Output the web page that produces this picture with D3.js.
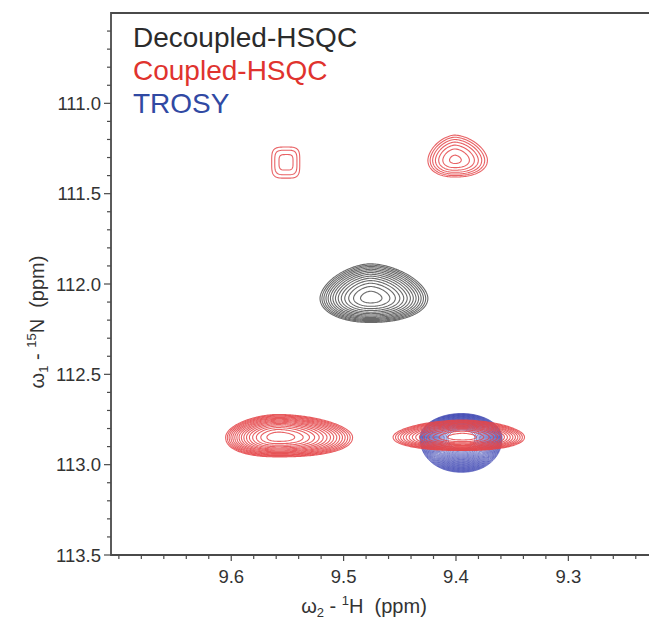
<!DOCTYPE html>
<html>
<head>
<meta charset="utf-8">
<script src="https://cdn.jsdelivr.net/npm/d3@7"></script>
<style>
  body { margin: 0; background: #fff; }
  svg { display: block; font-family: "Liberation Sans", Arial, sans-serif; }
  text { white-space: pre; }
</style>
</head>
<body>
<div id="chart"></div>
<script>
// axis ranges (ppm)
var hDomain = [9.707, 9.222];
var nDomain = [110.5, 113.5];
var hTicks = [9.6, 9.5, 9.4, 9.3];
var nTicks = [111.0, 111.5, 112.0, 112.5, 113.0, 113.5];

// peaks: centre (ppm), half widths to each side (ppm), number of contour rings
var decoupledPeaks = [
  {h: 9.476, n: 112.078, left: 0.045, right: 0.051, up: 0.19, down: 0.135, rings: 14, core: 0.2, qUp: 1.7, qDown: 2.1}
];
var coupledPeaks = [
  {h: 9.551, n: 111.325, left: 0.013, right: 0.012, up: 0.083, down: 0.089, rings: 3, core: 0.5, qUp: 4, qDown: 4},
  {h: 9.401, n: 111.314, left: 0.024, right: 0.029, up: 0.138, down: 0.094, rings: 7, core: 0.2, qUp: 1.7, qDown: 2.2},
  {h: 9.558, n: 112.847, left: 0.047, right: 0.066, up: 0.125, down: 0.11, rings: 16, core: 0.22, qUp: 1.8, qDown: 2.3},
  {h: 9.394, n: 112.847, left: 0.062, right: 0.055, up: 0.094, down: 0.075, rings: 15, core: 0.22, qUp: 1.8, qDown: 2.2}
];
var trosyPeaks = [
  {h: 9.395, n: 112.852, left: 0.037, right: 0.036, up: 0.135, down: 0.19, rings: 32, core: 0.33, qUp: 2, qDown: 2.1}
];
var legendNames = ["Decoupled-HSQC", "Coupled-HSQC", "TROSY"];
var legendColors = ["#2b2b2b", "#e0332e", "#3049a3"];

var W = 649, H = 621;
var x = d3.scaleLinear().domain(hDomain).range([111, 656]);
var y = d3.scaleLinear().domain(nDomain).range([13, 555]);

var svg = d3.select("#chart").append("svg")
    .attr("width", W).attr("height", H);

// grid for contouring
var step = 1.25;
var nx = Math.ceil((x.range()[1] - x.range()[0]) / step);
var ny = Math.ceil((y.range()[1] - y.range()[0]) / step);
var dH = (hDomain[0] - hDomain[1]) / nx;
var dN = (nDomain[1] - nDomain[0]) / ny;

function ringValue(p, hv, nv) {
  var dh = hv - p.h, dn = nv - p.n;
  var u = dh > 0 ? dh / p.left : -dh / p.right;
  var v = dn > 0 ? dn / p.down : -dn / p.up;
  var q = dn > 0 ? p.qDown : p.qUp;
  var r = Math.pow(Math.pow(u, q) + Math.pow(v, q), 1 / q);
  // rings crowd towards the rim, like log-spaced levels on a gaussian
  var e = (p.rings - 1) * (1 - r * r) / (1 - p.core * p.core);
  return Math.min(e, p.rings - 0.5);
}

function field(peaks) {
  var vals = new Float64Array(nx * ny);
  for (var j = 0; j < ny; j++) {
    var nv = nDomain[0] + (j + 0.5) * dN;
    for (var i = 0; i < nx; i++) {
      var hv = hDomain[0] - (i + 0.5) * dH;
      var m = -50;
      peaks.forEach(function(p) { m = Math.max(m, ringValue(p, hv, nv)); });
      vals[j * nx + i] = m;
    }
  }
  return vals;
}

var proj = d3.geoTransform({
  point: function(px, py) {
    this.stream.point(x(hDomain[0] - px * dH), y(nDomain[0] + py * dN));
  }
});
var path = d3.geoPath(proj);

function drawSpectrum(peaks, color, width, opacity) {
  var maxRings = d3.max(peaks, function(p) { return p.rings; });
  var contours = d3.contours().size([nx, ny])
      .thresholds(d3.range(0, maxRings))(field(peaks));
  svg.append("g")
    .selectAll("path")
    .data(contours)
    .join("path")
    .attr("d", path)
    .attr("fill", "none")
    .attr("stroke", color)
    .attr("stroke-width", width)
    .attr("stroke-opacity", opacity)
    .attr("stroke-linejoin", "round");
}

drawSpectrum(decoupledPeaks, "#626262", 1.1, 0.95);
drawSpectrum(trosyPeaks, "#3a43b0", 1.0, 0.7);
drawSpectrum(coupledPeaks, "#e4474a", 1.1, 0.85);

// frame
var axisColor = "#4a4a4a";
svg.append("path")
  .attr("d", "M" + x.range()[1] + "," + y.range()[0] + "H" + x.range()[0] + "V" + y.range()[1] + "H" + x.range()[1])
  .attr("fill", "none").attr("stroke", axisColor).attr("stroke-width", 1.8);

// x ticks
var hMinor = d3.range(0, 25).map(function(k) { return +(9.70 - k * 0.02).toFixed(2); });
svg.append("g").selectAll("line").data(hMinor).join("line")
  .attr("x1", function(d) { return x(d); }).attr("x2", function(d) { return x(d); })
  .attr("y1", y.range()[1])
  .attr("y2", function(d) { return y.range()[1] + (hTicks.indexOf(d) >= 0 ? 6 : 4); })
  .attr("stroke", axisColor).attr("stroke-width", 1.2);
svg.append("g").selectAll("text").data(hTicks).join("text")
  .attr("x", function(d) { return x(d); }).attr("y", 583)
  .attr("text-anchor", "middle").attr("font-size", 18.5).attr("fill", "#333")
  .text(function(d) { return d.toFixed(1); });

// y ticks
var nMinor = d3.range(1, 31).map(function(k) { return +(nDomain[0] + k * 0.1).toFixed(1); });
svg.append("g").selectAll("line").data(nMinor).join("line")
  .attr("y1", function(d) { return y(d); }).attr("y2", function(d) { return y(d); })
  .attr("x1", x.range()[0])
  .attr("x2", function(d) { return x.range()[0] - (nTicks.indexOf(d) >= 0 ? 7 : 4); })
  .attr("stroke", axisColor).attr("stroke-width", 1.2);
svg.append("g").selectAll("text").data(nTicks).join("text")
  .attr("x", 101).attr("y", function(d) { return y(d); })
  .attr("dy", "0.36em")
  .attr("text-anchor", "end").attr("font-size", 18.5).attr("fill", "#333")
  .text(function(d) { return d.toFixed(1); });

// axis titles
var xt = svg.append("text").attr("x", 364).attr("y", 613)
  .attr("text-anchor", "middle").attr("font-size", 20).attr("fill", "#333");
xt.append("tspan").text("\u03c9");
xt.append("tspan").attr("font-size", 13).attr("dy", 4).text("2");
xt.append("tspan").attr("dy", -4).text(" - ");
xt.append("tspan").attr("font-size", 13).attr("dy", -8).text("1");
xt.append("tspan").attr("dy", 8).text("H  (ppm)");

var yt = svg.append("text")
  .attr("transform", "translate(44,322) rotate(-90)")
  .attr("text-anchor", "middle").attr("font-size", 20).attr("fill", "#333");
yt.append("tspan").text("\u03c9");
yt.append("tspan").attr("font-size", 13).attr("dy", 4).text("1");
yt.append("tspan").attr("dy", -4).text(" - ");
yt.append("tspan").attr("font-size", 13).attr("dy", -8).text("15");
yt.append("tspan").attr("dy", 8).text("N  (ppm)");

// legend
svg.append("g").selectAll("text").data(legendNames).join("text")
  .attr("x", 133).attr("y", function(d, i) { return 47 + i * 33; })
  .attr("font-size", 28)
  .attr("fill", function(d, i) { return legendColors[i]; })
  .text(function(d) { return d; });
</script>
</body>
</html>
